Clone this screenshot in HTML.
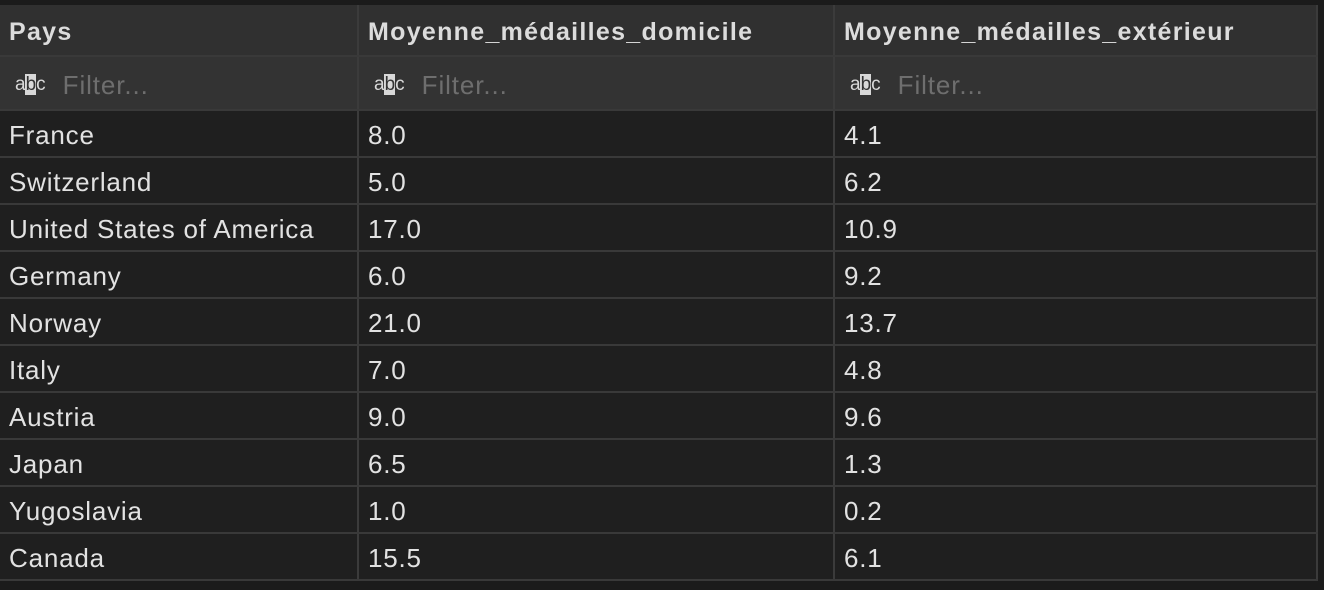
<!DOCTYPE html>
<html><head><meta charset="utf-8"><style>
html,body{margin:0;padding:0;width:1324px;height:590px;overflow:hidden;background:#1b1b1b;font-family:"Liberation Sans",Arial,sans-serif;}
.t{position:absolute;left:0;top:5px;width:1318px;}
.row{position:absolute;left:0;width:1318px;box-sizing:border-box;border-bottom:2px solid #393939;}
.c{position:absolute;top:0;height:100%;box-sizing:border-box;border-right:2px solid #3b3b3b;padding-left:9px;padding-top:4px;display:flex;align-items:center;white-space:nowrap;}
.c0{left:0;width:359px}.c1{left:359px;width:476px}.c2{left:835px;width:483px}
.hd{background:#303030;color:#dcdcdc;font-weight:bold;font-size:25px;letter-spacing:1.3px;}
.fl{background:#333333;color:#6e6e6e;font-size:26px;letter-spacing:0.9px;}
.dt{background:#1f1f1f;color:#e2e2e2;font-size:26px;letter-spacing:0.8px;}
.ic{font-size:19px;color:#d8d8d8;margin-left:6px;margin-right:18px;letter-spacing:-1px}
.ic b{background:#d8d8d8;color:#333;font-weight:normal;padding:0 1px}
</style></head><body>
<div class="t" id="tbl">
<div class="row hd" style="top:0;height:52px">
<div class="c c0">Pays</div>
<div class="c c1">Moyenne_médailles_domicile</div>
<div class="c c2">Moyenne_médailles_extérieur</div>
</div>
<div class="row fl" style="top:52px;height:54px">
<div class="c c0"><span class="ic">a<b>b</b>c</span>Filter...</div>
<div class="c c1"><span class="ic">a<b>b</b>c</span>Filter...</div>
<div class="c c2"><span class="ic">a<b>b</b>c</span>Filter...</div>
</div>
</div>
<script>
const countries=["France","Switzerland","United States of America","Germany","Norway","Italy","Austria","Japan","Yugoslavia","Canada"];
const homeValues=["8.0","5.0","17.0","6.0","21.0","7.0","9.0","6.5","1.0","15.5"];
const awayValues=["4.1","6.2","10.9","9.2","13.7","4.8","9.6","1.3","0.2","6.1"];
const tbl=document.getElementById('tbl');
countries.forEach((c,i)=>{
  const r=document.createElement('div');
  r.className='row dt';
  r.style.top=(106+i*47)+'px';r.style.height='47px';
  
  
  [c,homeValues[i],awayValues[i]].forEach((v,j)=>{
    const d=document.createElement('div');
    d.className='c c'+j;d.textContent=v;
    
    
    r.appendChild(d);
  });
  tbl.appendChild(r);
});
</script>
</body></html>
